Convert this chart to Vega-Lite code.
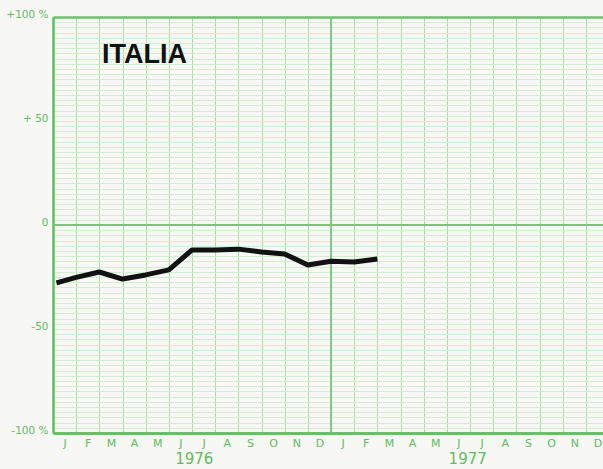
{
  "$schema": "https://vega.github.io/schema/vega-lite/v6.json",
  "width": 556,
  "height": 416,
  "autosize": {"type": "none"},
  "padding": {"left": 53, "top": 17, "right": 0, "bottom": 36},
  "background": "#f7f7f4",
  "config": {"view": {"stroke": null}, "font": "DejaVu Sans"},
  "encoding": {
    "x": {
      "field": "m", "type": "quantitative",
      "scale": {"domain": [0, 24], "nice": false, "zero": false},
      "axis": {
        "title": null,
        "values": [0,1,2,3,4,5,6,7,8,9,10,11,12,13,14,15,16,17,18,19,20,21,22,23,24],
        "labelExpr": "datum.value >= 24 ? '' : ['J','F','M','A','M','J','J','A','S','O','N','D'][datum.value % 12]",
        "labelOffset": 11.6,
        "labelPadding": 4,
        "labelFontSize": 11,
        "labelColor": "#62bb62",
        "labelFlush": false,
        "labelOverlap": false,
        "ticks": false,
        "domainColor": "#5cbf5c",
        "domainWidth": 2.5,
        "grid": true,
        "gridColor": "#a9dca9",
        "gridWidth": 1,
        "gridOpacity": 1
      }
    },
    "y": {
      "field": "v", "type": "quantitative",
      "scale": {"domain": [-100, 100], "nice": false, "zero": false},
      "axis": {
        "title": null,
        "values": [-100,-97.5,-95,-92.5,-90,-87.5,-85,-82.5,-80,-77.5,-75,-72.5,-70,-67.5,-65,-62.5,-60,-57.5,-55,-52.5,-50,-47.5,-45,-42.5,-40,-37.5,-35,-32.5,-30,-27.5,-25,-22.5,-20,-17.5,-15,-12.5,-10,-7.5,-5,-2.5,0,2.5,5,7.5,10,12.5,15,17.5,20,22.5,25,27.5,30,32.5,35,37.5,40,42.5,45,47.5,50,52.5,55,57.5,60,62.5,65,67.5,70,72.5,75,77.5,80,82.5,85,87.5,90,92.5,95,97.5,100],
        "labelExpr": "datum.value == 100 ? '+100 %' : datum.value == 50 ? '+ 50' : datum.value == 0 ? '0' : datum.value == -50 ? '-50' : datum.value == -100 ? '-100 %' : ''",
        "labelOffset": -3,
        "labelPadding": 5,
        "labelFontSize": 10.5,
        "labelColor": "#62bb62",
        "labelFlush": false,
        "labelOverlap": false,
        "ticks": false,
        "domainColor": "#5cbf5c",
        "domainWidth": 2.5,
        "grid": true,
        "gridColor": {"condition": {"test": "datum.value === 100 || datum.value === -100", "value": "#6cc26c"}, "value": "#d2edd2"},
        "gridWidth": {"condition": {"test": "datum.value === 100 || datum.value === -100", "value": 2.5}, "value": 1},
        "gridOpacity": 1
      }
    }
  },
  "layer": [
    {
      "data": {"values": [
        {"m": 12, "v": -100, "v2": 100},
        {"m": 0, "m2": 24, "v": 0}
      ]},
      "mark": {"type": "rule", "color": "#78c678", "strokeWidth": 1.8},
      "encoding": {
        "x2": {"field": "m2"},
        "y2": {"field": "v2"}
      }
    },
    {
      "data": {"values": [
        {"m": 0.15, "v": -27.8},
        {"m": 1, "v": -25.2},
        {"m": 2, "v": -22.6},
        {"m": 3, "v": -26},
        {"m": 4, "v": -24},
        {"m": 5, "v": -21.6},
        {"m": 6, "v": -12},
        {"m": 7, "v": -12},
        {"m": 8, "v": -11.6},
        {"m": 9, "v": -13},
        {"m": 10, "v": -13.9},
        {"m": 11, "v": -19.2},
        {"m": 12, "v": -17.4},
        {"m": 13, "v": -17.8},
        {"m": 14, "v": -16.3}
      ]},
      "mark": {"type": "line", "color": "#111111", "strokeWidth": 5, "strokeJoin": "round", "strokeCap": "butt"}
    },
    {
      "data": {"values": [{"m": 2.12, "v": 78, "t": "ITALIA"}]},
      "mark": {"type": "text", "align": "left", "baseline": "alphabetic", "font": "Liberation Sans", "fontWeight": "bold", "fontSize": 27, "color": "#111111"},
      "encoding": {"text": {"field": "t"}}
    },
    {
      "data": {"values": [
        {"m": 6.1, "v": -112.5, "t": "1976"},
        {"m": 17.9, "v": -112.5, "t": "1977"}
      ]},
      "mark": {"type": "text", "align": "center", "baseline": "middle", "fontSize": 15, "color": "#62bb62"},
      "encoding": {"text": {"field": "t"}}
    }
  ]
}
